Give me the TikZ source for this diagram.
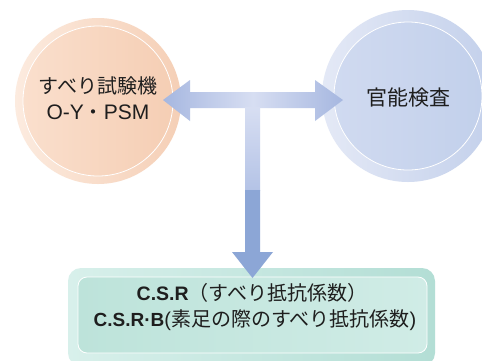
\documentclass[tikz,border=0pt]{standalone}
\usepackage{fontspec}
\setmainfont{Noto Sans CJK JP}
\newfontfamily\lat{Liberation Sans}
\usetikzlibrary{shadings}
\definecolor{txt}{HTML}{1E1E1E}
\definecolor{pkOutA}{HTML}{FCEBDF}
\definecolor{pkOutB}{HTML}{F5CFB6}
\definecolor{pkInA}{HTML}{FADFCD}
\definecolor{pkInB}{HTML}{F5CEB4}
\definecolor{blOutA}{HTML}{E4E9F6}
\definecolor{blOutB}{HTML}{C3D0EB}
\definecolor{blInA}{HTML}{D0DAF0}
\definecolor{blInB}{HTML}{C2D0EB}
\definecolor{grOutA}{HTML}{D8F0EB}
\definecolor{grOutB}{HTML}{B3DED5}
\definecolor{grInA}{HTML}{D0ECE6}
\definecolor{grInB}{HTML}{BDE3DA}
\definecolor{arLight}{HTML}{D7DEF2}
\definecolor{arMid}{HTML}{B4C3E6}
\definecolor{arHead}{HTML}{A6B7E0}
\definecolor{arDark}{HTML}{8CA6D6}
\tikzset{
  lbl/.style={text=txt, font=\fontsize{20}{24}\selectfont, align=center, inner sep=0pt},
  boxlbl/.style={text=txt, font=\fontsize{20}{24}\selectfont, inner sep=0pt, anchor=center},
  ringline/.style={draw=white, line width=0.8pt}
}
\begin{document}
\begin{tikzpicture}[x=1pt,y=-1pt]
\useasboundingbox (0,0) rectangle (482,360);
\fill[white] (0,0) rectangle (482,360);

% left circle
\shade[shading=axis, shading angle=135, left color=pkOutA, right color=pkOutB] (98,101) circle[radius=83];
\shade[shading=axis, shading angle=135, left color=pkInA, right color=pkInB, ringline] (98,101) circle[radius=75];
\node[lbl] (left1) at (98,86) {すべり試験機};
\node[lbl, font=\fontsize{21}{24}\selectfont\lat] (left2) at (98,112) {O-Y{\fontsize{20}{24}\selectfont\rmfamily ・}PSM};

% right circle
\shade[shading=axis, shading angle=135, left color=blOutA, right color=blOutB] (408,96) circle[radius=86];
\shade[shading=axis, shading angle=135, left color=blInA, right color=blInB, ringline] (408,96) circle[radius=74];
\node[lbl, font=\fontsize{21}{24}\selectfont] (right) at (408,98) {官能検査};

% bottom box
\shade[shading=axis, shading angle=90, left color=grOutA, right color=grOutB, rounded corners=13pt] (68,268) rectangle (435,366);
\shade[shading=axis, shading angle=90, left color=grInB, right color=grInA, rounded corners=9pt, ringline] (78,277) rectangle (427,353);
\node[boxlbl] (l1) at (252,293) {{\lat\bfseries\fontsize{19.5}{24}\selectfont C.S.R}（すべり抵抗係数）};
\node[boxlbl] (l2) at (255,320) {{\lat\bfseries\fontsize{19}{24}\selectfont C.S.R·B}{\lat (}素足の際のすべり抵抗係数{\lat )}};

% T arrow
\shade[left color=arHead, right color=arHead, middle color=arLight]
  (163,100) -- (190,80) -- (190,92) -- (315,92) -- (315,80) -- (343,100) -- (315,121) -- (315,108)
  -- (190,108) -- (190,121) -- cycle;
\shade[top color=arLight, bottom color=arMid] (245,107.5) rectangle (260,190);
\fill[arDark] (245,190) -- (260,190) -- (260,252) -- (273,252) -- (252.5,278) -- (232,252) -- (245,252) -- cycle;
\coordinate (tip) at (252.5,278);
\end{tikzpicture}
\end{document}
